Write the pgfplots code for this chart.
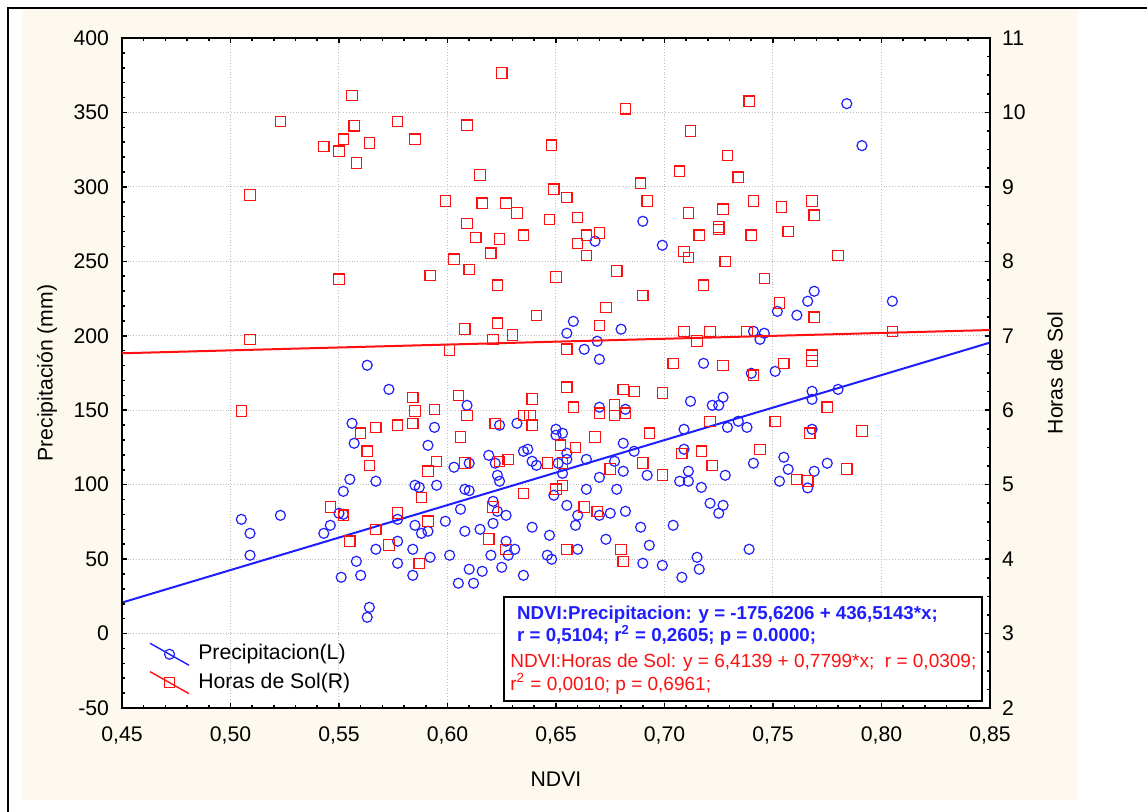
\documentclass[border=0pt]{standalone}
\usepackage{fontspec}
\setmainfont{Liberation Sans}
\usepackage{pgfplots}
\usepackage{pgfplotstable}
\pgfplotsset{compat=1.18}
\definecolor{cream}{HTML}{FEF9EE}
\definecolor{gridgray}{HTML}{BDBDBD}
\definecolor{ptblue}{HTML}{1E1EFF}
\definecolor{ptred}{HTML}{FF1010}
\newcommand{\tickfont}{\fontsize{10.6pt}{12pt}\selectfont}

% Precipitacion (left axis)
\pgfplotstableread{
x y
0.668 263.5
0.690 276.9
0.699 260.8
0.784 355.9
0.791 327.7
0.563 180.2
0.573 164.0
0.556 141.2
0.557 127.8
0.555 103.6
0.567 102.3
0.552 95.5
0.550 80.8
0.552 80.1
0.505 76.7
0.509 67.3
0.523 79.4
0.546 72.7
0.543 67.3
0.567 56.6
0.577 62.0
0.577 76.7
0.509 52.6
0.558 48.5
0.551 37.8
0.560 39.1
0.564 17.6
0.563 10.9
0.577 47.2
0.658 209.7
0.655 201.7
0.680 204.4
0.669 196.3
0.663 190.9
0.670 184.2
0.718 181.5
0.740 174.8
0.751 176.1
0.741 203.0
0.746 201.7
0.744 197.6
0.752 216.4
0.609 153.3
0.670 152.0
0.682 150.6
0.712 156.0
0.722 153.3
0.725 153.3
0.727 158.7
0.594 138.5
0.624 139.9
0.632 141.2
0.650 137.2
0.650 133.2
0.653 134.5
0.709 137.2
0.729 138.5
0.734 142.6
0.738 138.5
0.591 126.4
0.681 127.8
0.686 122.4
0.709 123.8
0.635 122.4
0.637 123.8
0.619 119.7
0.655 121.1
0.655 117.0
0.664 117.0
0.677 115.7
0.603 111.7
0.610 114.4
0.622 114.4
0.639 115.7
0.641 113.0
0.651 114.4
0.681 109.0
0.711 109.0
0.741 114.4
0.623 106.3
0.624 102.3
0.653 107.6
0.670 104.9
0.692 106.3
0.707 102.3
0.711 102.3
0.728 106.3
0.753 102.3
0.585 99.6
0.587 98.2
0.595 99.6
0.608 96.9
0.610 96.0
0.664 96.9
0.678 96.9
0.717 98.2
0.649 92.9
0.621 88.8
0.655 86.1
0.721 87.5
0.727 86.1
0.725 80.8
0.606 83.5
0.623 82.1
0.627 79.4
0.660 79.4
0.670 79.4
0.675 80.8
0.682 82.1
0.599 75.4
0.585 72.7
0.588 67.3
0.591 68.7
0.621 74.0
0.615 70.0
0.608 68.7
0.639 71.4
0.659 72.7
0.689 71.4
0.704 72.7
0.647 66.0
0.673 63.3
0.693 59.3
0.627 62.0
0.584 56.6
0.631 56.6
0.660 56.6
0.739 56.6
0.584 39.1
0.592 51.2
0.601 52.6
0.610 43.2
0.605 33.8
0.612 33.8
0.616 41.8
0.620 52.6
0.625 44.5
0.628 52.6
0.635 39.1
0.646 52.6
0.648 49.9
0.690 47.2
0.699 45.8
0.708 37.8
0.715 51.2
0.716 43.2
0.769 229.9
0.766 223.2
0.805 223.2
0.761 213.8
0.768 162.7
0.768 157.3
0.780 164.0
0.768 137.2
0.755 118.4
0.757 110.3
0.769 109.0
0.775 114.4
0.766 97.8
}\precip

% Horas de Sol (right axis)
\pgfplotstableread{
x y
0.625 10.53
0.682 10.05
0.739 10.15
0.577 9.88
0.585 9.64
0.609 9.83
0.648 9.56
0.712 9.75
0.729 9.42
0.707 9.21
0.734 9.13
0.615 9.16
0.599 8.81
0.616 8.78
0.627 8.78
0.632 8.65
0.649 8.97
0.655 8.86
0.689 9.05
0.692 8.81
0.741 8.81
0.754 8.73
0.711 8.65
0.727 8.70
0.609 8.51
0.647 8.56
0.660 8.59
0.613 8.32
0.624 8.30
0.635 8.35
0.664 8.35
0.670 8.38
0.660 8.24
0.716 8.35
0.725 8.46
0.725 8.43
0.740 8.35
0.664 8.08
0.620 8.11
0.603 8.03
0.610 7.89
0.709 8.13
0.711 8.05
0.728 8.00
0.592 7.81
0.650 7.79
0.678 7.87
0.746 7.77
0.523 9.88
0.556 10.23
0.557 9.82
0.552 9.64
0.543 9.54
0.550 9.48
0.564 9.59
0.558 9.32
0.509 8.89
0.550 7.76
0.768 8.81
0.769 8.62
0.757 8.40
0.780 8.08
0.509 6.95
0.505 5.99
0.560 5.69
0.567 5.77
0.577 5.80
0.563 5.45
0.564 5.26
0.546 4.70
0.552 4.59
0.567 4.40
0.577 4.62
0.555 4.24
0.573 4.19
0.623 7.68
0.718 7.68
0.690 7.54
0.673 7.38
0.641 7.27
0.753 7.44
0.608 7.09
0.623 7.17
0.670 7.14
0.621 6.95
0.630 7.01
0.601 6.81
0.655 6.82
0.709 7.06
0.721 7.06
0.738 7.06
0.715 6.93
0.704 6.63
0.727 6.60
0.741 6.47
0.655 6.31
0.681 6.28
0.686 6.25
0.699 6.23
0.584 6.17
0.605 6.20
0.639 6.15
0.585 5.99
0.594 6.01
0.609 5.93
0.658 6.04
0.670 5.96
0.677 6.07
0.677 5.93
0.682 5.96
0.635 5.93
0.638 5.93
0.584 5.82
0.622 5.82
0.639 5.80
0.606 5.64
0.668 5.64
0.693 5.69
0.721 5.85
0.751 5.85
0.652 5.53
0.659 5.50
0.708 5.42
0.717 5.45
0.744 5.47
0.595 5.31
0.591 5.18
0.608 5.29
0.624 5.31
0.628 5.34
0.646 5.29
0.653 5.29
0.675 5.21
0.690 5.29
0.722 5.26
0.699 5.13
0.653 4.99
0.650 4.94
0.588 4.83
0.635 4.88
0.621 4.70
0.663 4.70
0.669 4.64
0.591 4.51
0.619 4.27
0.627 4.13
0.655 4.13
0.680 4.13
0.587 3.94
0.681 3.97
0.769 7.25
0.805 7.06
0.768 6.74
0.768 6.66
0.755 6.63
0.775 6.04
0.767 5.69
0.791 5.72
0.761 5.07
0.766 5.05
0.784 5.21
}\horas

\pgfplotsset{
  twin/.style={
    scale only axis, width=434pt, height=335pt,
    xmin=0.45, xmax=0.85,
    xtick={0.45,0.50,0.55,0.60,0.65,0.70,0.75,0.80,0.85},
    minor x tick num=4,
    tick align=inside,
    major tick length=2.5pt, minor tick length=1.5pt,
    tick style={black, line width=0.8pt},
    axis line style={black, line width=1.2pt},
    ticklabel style={font=\tickfont},
    label style={font=\tickfont},
    scaled ticks=false,
  },
}

\begin{document}
\begin{tikzpicture}
\useasboundingbox (-61pt,-52pt) rectangle (512.5pt,354pt);
\fill[white] (-61pt,-52pt) rectangle (512.5pt,354pt);
\fill[cream] (-50pt,-46pt) rectangle (478pt,349.5pt);
\draw[line width=1.15pt] (-57pt,-53pt) -- (-57pt,350pt) -- (513pt,350pt);

\begin{axis}[twin,
  ymin=-50, ymax=400, ytick={-50,0,...,400}, minor y tick num=4,
  ytick pos=left,
  grid=major, major grid style={gridgray, densely dotted, line width=0.5pt},
  axis background/.style={fill=white},
  xlabel={NDVI}, ylabel={Precipitación (mm)},
  xlabel style={at={(axis description cs:0.5,-0.106)}, anchor=center},
  ylabel style={at={(axis description cs:-0.0864,0.5)}, anchor=center},
  xticklabel style={/pgf/number format/use comma, /pgf/number format/fixed,
    /pgf/number format/fixed zerofill, /pgf/number format/precision=2,
    /pgf/number format/assume math mode=true, yshift=-5.7pt},
  yticklabel style={/pgf/number format/assume math mode=true, xshift=-3pt},
  legend cell align=left,
  legend style={draw=none, fill=none, at={(axis description cs:0.031,0.102)},
    anchor=north west, inner sep=0pt, row sep=0pt, font=\tickfont,
    nodes={text height=7.7pt, text depth=2.3pt, inner ysep=2.1pt, inner xsep=2.5pt}},
  legend image code/.code={\draw[mark repeat=2, mark phase=2]
    plot coordinates {(0pt,5.5pt) (9.75pt,0pt) (19.5pt,-5.5pt)};},
]
\addlegendimage{ptblue, line width=0.7pt, mark=o, mark size=2.5pt, mark options={line width=0.6pt}}
\addlegendentry{\hspace{1.8pt}Precipitacion(L)}
\addlegendimage{ptred, line width=0.7pt, mark=square, mark size=2.6pt, mark options={line width=0.6pt}}
\addlegendentry{\hspace{1.8pt}Horas de Sol(R)}
\addplot[forget plot, only marks, ptblue, mark=o, mark size=2.5pt, mark options={line width=0.6pt}] table {\precip};
\addplot[forget plot, ptblue, line width=1pt] coordinates {(0.45,20.81) (0.85,195.42)};
\end{axis}

\begin{axis}[twin, hide x axis,
  ymin=2, ymax=11, ytick={2,...,11}, minor y tick num=3,
  ytick pos=right, yticklabel pos=right,
  ylabel={Horas de Sol},
  ylabel style={at={(axis description cs:1.0749,0.5)}, anchor=center},
  yticklabel style={/pgf/number format/assume math mode=true, xshift=2.5pt},
]
\addplot[only marks, ptred, mark=square, mark size=2.6pt, mark options={line width=0.6pt}] table {\horas};
\addplot[ptred, line width=1pt] coordinates {(0.45,6.765) (0.85,7.077)};
\end{axis}

\draw[line width=1.2pt, fill=white] (191pt,55.35pt) rectangle (429.85pt,3.5pt);
\begin{scope}[every node/.style={anchor=base west, inner sep=0pt}]
\node[text=ptblue, font=\bfseries\fontsize{9.35pt}{11pt}\selectfont] at (197.4pt,44pt)
  {NDVI:Precipitacion: y = -175,6206 + 436,5143*x;};
\node[text=ptblue, font=\bfseries\fontsize{9.35pt}{11pt}\selectfont] at (197.4pt,33pt)
  {r = 0,5104; r\textsuperscript{2} = 0,2605; p = 0.0000;};
\node[text=ptred, font=\fontsize{9.5pt}{11pt}\selectfont] at (194pt,20.3pt)
  {NDVI:Horas de Sol: y = 6,4139 + 0,7799*x;\ \ r = 0,0309;};
\node[text=ptred, font=\fontsize{9.5pt}{11pt}\selectfont] at (194pt,8.7pt)
  {r\textsuperscript{2} = 0,0010; p = 0,6961;};
\end{scope}
\end{tikzpicture}
\end{document}
